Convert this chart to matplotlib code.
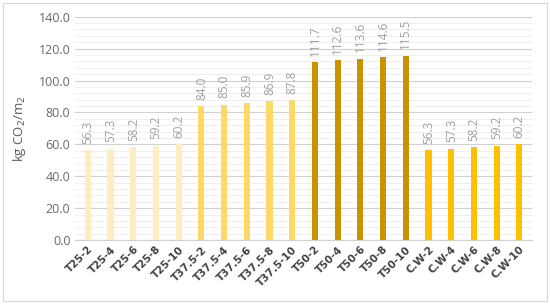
import matplotlib.pyplot as plt
from matplotlib.ticker import MultipleLocator
from matplotlib.patches import Rectangle

labels = ["T25-2", "T25-4", "T25-6", "T25-8", "T25-10",
          "T37.5-2", "T37.5-4", "T37.5-6", "T37.5-8", "T37.5-10",
          "T50-2", "T50-4", "T50-6", "T50-8", "T50-10",
          "C.W-2", "C.W-4", "C.W-6", "C.W-8", "C.W-10"]
values = [56.3, 57.3, 58.2, 59.2, 60.2,
          84.0, 85.0, 85.9, 86.9, 87.8,
          111.7, 112.6, 113.6, 114.6, 115.5,
          56.3, 57.3, 58.2, 59.2, 60.2]
group_colors = ["#FFEDC2", "#FFD966", "#CC9300", "#FFC000"]
colors = [c for c in group_colors for _ in range(5)]

plt.rcParams['font.family'] = ['Open Sans', 'DejaVu Sans']

fig = plt.figure(figsize=(5.5, 3.04), dpi=100)
ax = fig.add_axes([0.137, 0.21, 0.83, 0.735])

x = list(range(len(labels)))
bars = ax.bar(x, values, width=0.27, color=colors, zorder=3)

for xi, v in zip(x, values):
    ax.text(xi, v + 4, f"{v:.1f}", rotation=90, ha='center', va='bottom',
            fontsize=8.5, color='#a0a0a0')

ax.set_xlim(-0.55, len(labels) - 0.45)
ax.set_ylim(0, 140)
ax.yaxis.set_major_locator(MultipleLocator(20))
ax.yaxis.set_minor_locator(MultipleLocator(4))
ax.yaxis.set_major_formatter(lambda v, p: f"{v:.1f}")
ax.grid(axis='y', which='major', color='#d0d0d0', lw=0.8, zorder=0)
ax.grid(axis='y', which='minor', color='#ececec', lw=0.6, zorder=0)
ax.tick_params(axis='y', which='both', length=0, labelsize=9, colors='#6a6a6a')
ax.tick_params(axis='x', length=0, pad=3)
ax.set_xticks(x)
ax.set_xticklabels(labels, rotation=45, ha='right', rotation_mode='anchor',
                   fontsize=7.5, fontweight='bold', color='#404040',
                   family=['DejaVu Sans'])
for s in ['top', 'right', 'left']:
    ax.spines[s].set_visible(False)
ax.spines['bottom'].set_color('#d0d0d0')

ax.set_ylabel("kg CO$_2$/m$_2$", fontsize=9.5, color='#595959', labelpad=8)

fig.patches.append(Rectangle((0.005, 0.01), 0.99, 0.98, transform=fig.transFigure,
                             fill=False, edgecolor='#d9d9d9', lw=0.8))

fig.savefig("out.png", dpi=100)
